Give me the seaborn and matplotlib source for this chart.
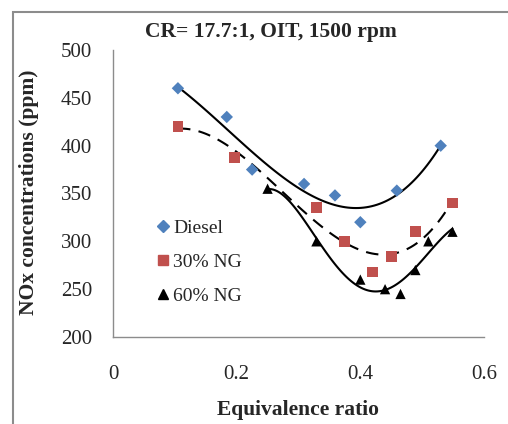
import numpy as np
import pandas as pd
import matplotlib
matplotlib.use("Agg")
import matplotlib.pyplot as plt
from matplotlib.patches import Rectangle
from matplotlib.lines import Line2D
import seaborn as sns

# Data
diesel_x = [0.105, 0.184, 0.225, 0.309, 0.359, 0.400, 0.459, 0.530]
diesel_y = [460, 430, 375, 360, 348, 320, 353, 400]
ng30_x = [0.105, 0.196, 0.329, 0.375, 0.420, 0.451, 0.489, 0.549]
ng30_y = [420, 388, 335, 300, 268, 284, 310, 340]
ng60_x = [0.250, 0.329, 0.400, 0.440, 0.465, 0.489, 0.510, 0.549]
ng60_y = [355, 300, 260, 250, 245, 270, 300, 310]
series_names = ["Diesel", "30% NG", "60% NG"]
xticks = [0, 0.2, 0.4, 0.6]
xticklabels = ["0", "0.2", "0.4", "0.6"]
yticks = [200, 250, 300, 350, 400, 450, 500]

sns.set_theme(style="white")
plt.rcParams['font.family'] = ['Liberation Serif', 'DejaVu Serif']

fig = plt.figure(figsize=(5.08, 4.24), dpi=100)
ax = fig.add_axes([113/508, 1-337/424, (484-113)/508, (337-50)/424])

# outer frame
fig.patches.append(Rectangle((13/508, -0.1), 1.2, (424-12)/424 + 0.1,
                             transform=fig.transFigure, fill=False,
                             edgecolor="#8c8c8c", linewidth=1.5, zorder=0))

colors = ["#4F81BD", "#C0504D", "#000000"]
markers = ["D", "s", "^"]
msizes = [40, 60, 55]
lstyles = ["-", (0, (6, 4)), "-"]
orders = [3, 3, 4]
data = [(diesel_x, diesel_y), (ng30_x, ng30_y), (ng60_x, ng60_y)]

for (xs, ys), name, c, m, s, ls, od in zip(data, series_names, colors, markers, msizes, lstyles, orders):
    df = pd.DataFrame({"x": xs, "y": ys})
    sns.scatterplot(data=df, x="x", y="y", ax=ax, color=c, marker=m, s=s,
                    edgecolor="none", zorder=3, legend=False)
    sns.regplot(data=df, x="x", y="y", ax=ax, order=od, ci=None, scatter=False,
                line_kws=dict(color="black", linewidth=1.5, linestyle=ls, zorder=2))

ax.set_xlim(0, 0.6)
ax.set_ylim(200, 500)
ax.set_xticks(xticks)
ax.set_xticklabels(xticklabels)
ax.set_yticks(yticks)
ax.tick_params(axis="x", length=0, pad=20, labelsize=15)
ax.tick_params(axis="y", length=0, pad=15, labelsize=15)
for sp in ["top", "right"]:
    ax.spines[sp].set_visible(False)
for sp in ["left", "bottom"]:
    ax.spines[sp].set_color("#8c8c8c")
    ax.spines[sp].set_linewidth(1.0)

ax.set_xlabel("")
ax.set_ylabel("")
fig.text(298/508, 1-410/424, "Equivalence ratio", ha="center", va="center",
         fontsize=15.5, fontweight="bold")
fig.text(29/508, 1-192/424, "NOx concentrations (ppm)", ha="center", va="center",
         rotation=90, fontsize=15.5, fontweight="bold")
fig.text(271/508, 1-32/424, "CR= 17.7:1, OIT, 1500 rpm", ha="center", va="center",
         fontsize=15.5, fontweight="bold")

handles = [Line2D([], [], linestyle="none", marker=m, color=c, markersize=ms)
           for m, c, ms in zip(markers, colors, [6, 7.5, 7.5])]
ax.legend(handles, series_names, loc="center left",
          bbox_to_anchor=((153-113)/371, (337-262)/287),
          frameon=False, fontsize=14, handletextpad=0.05, labelspacing=0.85,
          handlelength=1.0, borderpad=0, borderaxespad=0)

fig.savefig("out.png", dpi=100)
